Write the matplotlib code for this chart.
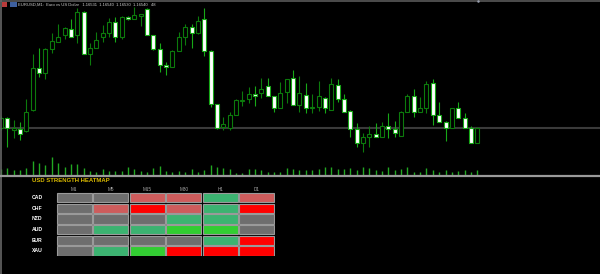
import matplotlib
matplotlib.use("Agg")
import matplotlib.pyplot as plt
from matplotlib.patches import Rectangle
import numpy as np

# ---------------- data ----------------
BASE = 1.16492   # price at the bottom of the chart window
POINT = 0.00001

open_pts = [48, 58, 46, 47, 45, 66, 108, 103, 127, 134, 141, 147, 141, 164, 122, 128, 139, 143, 154, 139,
            159, 157, 160, 167, 141, 127, 111, 109, 125, 139, 149, 143, 157, 125, 72, 49, 48, 61, 75, 77,
            82, 83, 90, 80, 68, 84, 98, 71, 81, 68, 69, 78, 66, 91, 77, 65, 47, 33, 39, 42,
            39, 50, 47, 40, 64, 80, 64, 68, 93, 61, 54, 48, 68, 58, 48, 33]
high_pts = [60, 59, 56, 54, 77, 122, 128, 128, 143, 152, 149, 157, 168, 165, 133, 144, 151, 158, 159, 160,
            160, 169, 162, 168, 141, 133, 114, 126, 144, 152, 152, 160, 168, 126, 72, 59, 64, 77, 85, 89,
            90, 98, 98, 80, 94, 97, 106, 100, 93, 82, 95, 79, 98, 97, 82, 66, 53, 43, 50, 53,
            54, 63, 55, 65, 82, 87, 79, 95, 97, 74, 55, 68, 74, 63, 50, 49]
low_pts = [46, 29, 38, 36, 44, 65, 99, 97, 123, 134, 137, 139, 133, 122, 111, 128, 134, 139, 134, 137,
           156, 157, 150, 141, 126, 104, 101, 109, 125, 131, 128, 142, 120, 69, 47, 46, 46, 61, 70, 73,
           70, 78, 80, 64, 68, 73, 71, 64, 63, 63, 65, 63, 66, 74, 64, 39, 29, 24, 29, 39,
           39, 38, 39, 40, 64, 59, 64, 63, 51, 54, 35, 48, 58, 48, 33, 33]
close_pts = [58, 48, 48, 42, 64, 108, 103, 127, 135, 139, 148, 139, 164, 122, 128, 136, 143, 154, 139, 159,
             157, 161, 162, 141, 127, 111, 109, 125, 139, 149, 143, 155, 125, 72, 48, 52, 61, 76, 76, 82,
             80, 87, 80, 68, 83, 97, 71, 83, 68, 69, 80, 68, 92, 77, 64, 47, 33, 39, 42, 39,
             50, 47, 43, 64, 80, 64, 68, 92, 61, 54, 48, 68, 58, 48, 33, 48]
tick_volume = [60, 67, 50, 50, 67, 143, 123, 100, 177, 117, 77, 110, 110, 67, 40, 33, 57, 43, 43, 43,
               77, 60, 43, 27, 67, 90, 40, 27, 43, 33, 57, 33, 50, 100, 77, 67, 57, 23, 23, 57,
               57, 50, 33, 33, 33, 67, 60, 50, 50, 50, 60, 77, 83, 60, 60, 67, 50, 77, 67, 50,
               43, 77, 50, 57, 77, 33, 33, 67, 50, 33, 50, 33, 40, 50, 33, 50]

chart_title = "EURUSD,M1:  Euro vs US Dollar   1.16531  1.16540  1.16530  1.16540   48"

heat_title = "USD STRENGTH HEATMAP"
timeframes = ["M1", "M5", "M15", "M30", "H1", "D1"]
currencies = ["CAD", "CHF", "NZD", "AUD", "EUR", "XAU"]
# -2 strong weak, -1 weak, 0 neutral, 1 strong, 2 very strong
strength = [
    [0, 0, -1, -1, 1, -1],
    [0, -1, -2, -1, 1, -2],
    [0, 0, 0, 1, 1, 0],
    [0, 1, 1, 2, 2, 0],
    [0, 0, 0, 0, 1, -2],
    [0, 1, 2, -2, -2, -2],
]
strength_colors = {-2: "#ff0000", -1: "#cd5c5c", 0: "#6e6e6e", 1: "#3cb371", 2: "#32cd32"}

n = len(open_pts)
assert all(len(a) == n for a in (high_pts, low_pts, close_pts, tick_volume))

o = BASE + np.array(open_pts) * POINT
h = BASE + np.array(high_pts) * POINT
l = BASE + np.array(low_pts) * POINT
c = BASE + np.array(close_pts) * POINT
idx = np.arange(n)

# ---------------- figure ----------------
W, H = 600, 274
fig = plt.figure(figsize=(W / 100, H / 100), dpi=100, facecolor="black")

chart_h = 176
step = 6.35
ax = fig.add_axes([0, (H - chart_h) / H, 1, chart_h / H])
ax.set_facecolor("black")
x0 = -1 / step
ax.set_xlim(x0, x0 + W / step)
ax.set_ylim(BASE, BASE + chart_h * POINT)
ax.axis("off")

# bid line
ax.axhline(c[-1], color="#3a3a3a", lw=1.5, zorder=1)

edge_up = "#0c7a0c"
edge_dn = "#17a817"
bw = 4.0 / step
for i in range(n):
    bull = c[i] >= o[i]
    ec = edge_up if bull else edge_dn
    ax.vlines(i, l[i], h[i], color=ec, lw=0.8, zorder=2)
    bottom = min(o[i], c[i])
    height = max(abs(c[i] - o[i]), 0.6 * POINT)
    face = "black" if bull else "white"
    ax.add_patch(Rectangle((i - bw / 2, bottom), bw, height, facecolor=face,
                           edgecolor=ec, lw=0.8, zorder=3))

# volume histogram
vax = fig.add_axes([0, (H - chart_h) / H, 1, chart_h / H])
vax.set_xlim(x0, x0 + W / step)
vax.set_ylim(-12, chart_h * 10 - 12)
vax.axis("off")
vax.patch.set_alpha(0)
vax.vlines(idx, 0, tick_volume, color="#22a822", lw=1.0)

# borders
ov = fig.add_axes([0, 0, 1, 1])
ov.set_xlim(0, W)
ov.set_ylim(H, 0)
ov.axis("off")
ov.patch.set_alpha(0)
ov.plot([0, W], [0.5, 0.5], color="#5a5a5a", lw=1.2)
ov.plot([0.6, 0.6], [0, H], color="#666666", lw=1.2)
ov.plot([0, W], [176, 176], color="#9a9a9a", lw=1.6)
ov.plot([477.5], [1.2], marker="o", ms=1.8, color="#9aa0b0", mec="none")
# title icons and text
ov.add_patch(Rectangle((1.7, 1.7), 5.6, 5.6, facecolor="#b83a3a", edgecolor="none"))
ov.add_patch(Rectangle((10.2, 1.7), 6.3, 5.6, facecolor="#3d5f9e", edgecolor="none"))
ov.text(18.5, 4.6, chart_title, color="#d0d0d0", fontsize=3.0,
        family="Liberation Sans", va="center", ha="left")

# ---------------- heatmap ----------------
gx0, gx1 = 56, 275
gy0, gy1 = 192.3, 256.3
hax = fig.add_axes([gx0 / W, (H - gy1) / H, (gx1 - gx0) / W, (gy1 - gy0) / H])
hax.set_xlim(0, len(timeframes))
hax.set_ylim(len(currencies), 0)
hax.axis("off")
hax.patch.set_alpha(0)
for r, row in enumerate(strength):
    for k, v in enumerate(row):
        hax.add_patch(Rectangle((k + 0.02, r + 0.05), 0.96, 0.9,
                                facecolor=strength_colors[v], edgecolor="#9a9a9a", lw=0.8))
for k, tf in enumerate(timeframes):
    hax.text(k + 0.5, -0.3, tf, color="#a8a8a8", fontsize=3.3, family="Liberation Sans",
             ha="center", va="center", clip_on=False)
for r, cur in enumerate(currencies):
    hax.text(-0.66, r + 0.5, cur, color="white", fontsize=3.7, family="Liberation Sans",
             fontweight="bold", ha="left", va="center", clip_on=False)
hax.text(-0.66, -1.08, heat_title, color="#d8b800", fontsize=4.3, family="Liberation Sans",
         fontweight="bold", ha="left", va="center", clip_on=False)

fig.savefig("out.png", dpi=100, facecolor="black")
